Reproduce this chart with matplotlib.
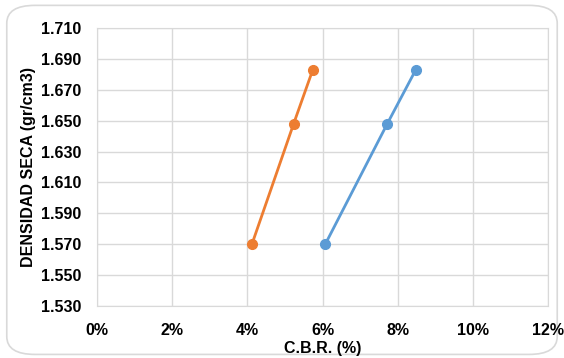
import matplotlib
matplotlib.use("Agg")
import matplotlib.pyplot as plt
from matplotlib.patches import FancyBboxPatch
from matplotlib.ticker import FuncFormatter

# CBR (%) vs dry density for two soil samples
cbr_orange = [4.12, 5.23, 5.74]
dens_orange = [1.570, 1.648, 1.683]
cbr_blue = [6.07, 7.72, 8.48]
dens_blue = [1.570, 1.648, 1.683]

x_ticks = [0, 2, 4, 6, 8, 10, 12]
y_ticks = [1.530, 1.550, 1.570, 1.590, 1.610, 1.630, 1.650, 1.670, 1.690, 1.710]

plt.rcParams['font.family'] = ['Liberation Sans', 'DejaVu Sans']

fig = plt.figure(figsize=(5.64, 3.58), dpi=100)
fig.patch.set_facecolor('white')
border = FancyBboxPatch((0.012, 0.01), 0.976, 0.975,
                        boxstyle="round,pad=0,rounding_size=0.05",
                        transform=fig.transFigure, facecolor='none',
                        edgecolor='#d9d9d9', linewidth=1.2, zorder=0)
fig.patches.append(border)

ax = fig.add_axes([0.172, 0.145, 0.8, 0.777])
ax.set_zorder(2)
ax.set_facecolor('none')
ax.plot(cbr_orange, dens_orange, color='#ED7D31', lw=2, marker='o', ms=7, zorder=3)
ax.plot(cbr_blue, dens_blue, color='#5B9BD5', lw=2, marker='o', ms=7, zorder=3)

ax.set_xlim(0, 12)
ax.set_ylim(1.530, 1.710)
ax.set_xticks(x_ticks)
ax.set_yticks(y_ticks)
ax.xaxis.set_major_formatter(FuncFormatter(lambda v, p: f"{v:.0f}%"))
ax.yaxis.set_major_formatter(FuncFormatter(lambda v, p: f"{v:.3f}"))
ax.grid(True, color='#d9d9d9', lw=1)
ax.set_axisbelow(True)
for s in ax.spines.values():
    s.set_color('#d9d9d9')
ax.tick_params(length=0, labelsize=11.5, colors='black')
ax.tick_params(axis='x', pad=12)
ax.tick_params(axis='y', pad=11)
for lbl in ax.get_xticklabels() + ax.get_yticklabels():
    lbl.set_fontweight('bold')

ax.set_xlabel('C.B.R. (%)', fontsize=11.5, fontweight='bold', labelpad=2)
ax.set_ylabel('DENSIDAD SECA (gr/cm3)', fontsize=11.5, fontweight='bold', labelpad=4)

fig.savefig('out.png', dpi=100)
